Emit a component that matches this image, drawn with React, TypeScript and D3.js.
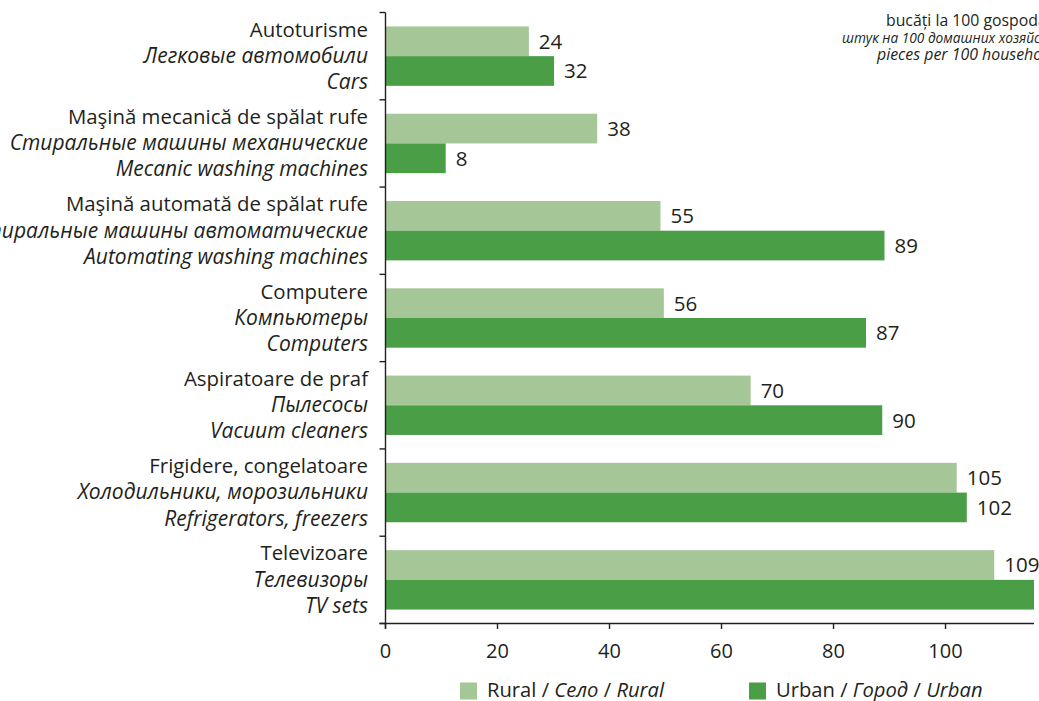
import React from 'react';
import * as d3 from 'd3';

const categoriesRo = [
  'Autoturisme',
  'Maşină mecanică de spălat rufe',
  'Maşină automată de spălat rufe',
  'Computere',
  'Aspiratoare de praf',
  'Frigidere, congelatoare',
  'Televizoare',
];
const categoriesRu = [
  'Легковые автомобили',
  'Стиральные машины механические',
  'Стиральные машины автоматические',
  'Компьютеры',
  'Пылесосы',
  'Холодильники, морозильники',
  'Телевизоры',
];
const categoriesEn = [
  'Cars',
  'Mecanic washing machines',
  'Automating washing machines',
  'Computers',
  'Vacuum cleaners',
  'Refrigerators, freezers',
  'TV sets',
];
// bar lengths as drawn in the reference
const ruralValues = [25.6, 37.8, 49.1, 49.7, 65.2, 102.0, 108.7];
const urbanValues = [30.1, 10.75, 89.1, 85.8, 88.7, 103.8, 118];
// value labels as printed in the reference
const ruralLabels = ['24', '38', '55', '56', '70', '105', '109'];
const urbanLabels = ['32', '8', '89', '87', '90', '102', '118'];
const xTicks = [0, 20, 40, 60, 80, 100];
const unitNote = ['bucăți la 100 gospodării', 'штук на 100 домашних хозяйств', 'pieces per 100 households'];
const seriesKeys = ['rural', 'urban'];

const W = 1039;
const H = 701;
const FONT = '"Open Sans", "Noto Sans", sans-serif';
const TXT = '#231f20';
const RURAL = '#a5c696';
const URBAN = '#4a9e46';
const noteX = [886, 842, 877];
const noteSize = [15.8, 13.7, 15.9];

export default function App() {
  const x = d3.scaleLinear().domain([0, 115.8]).range([385.5, 1034]);
  const y = d3
    .scaleBand<number>()
    .domain(d3.range(categoriesRo.length))
    .range([12.5, 623.5]);
  const ys = d3
    .scaleBand<string>()
    .domain(seriesKeys)
    .range([0, y.bandwidth()])
    .paddingInner(0)
    .paddingOuter(0.47);
  const x0 = x(0);
  const axisY = y.range()[1];
  const boundaries = d3.range(categoriesRo.length + 1).map((i) => y.range()[0] + i * y.step());

  return (
    <svg
      width={W}
      height={H}
      style={{ position: 'absolute', left: 0, top: 0, background: '#fff' }}
      fontFamily={FONT}
    >
      <defs>
        <clipPath id="plotClip">
          <rect x={x0} y={0} width={x.range()[1] - x0} height={H} />
        </clipPath>
      </defs>
      <rect x={0} y={0} width={W} height={H} fill="#fff" />

      {/* unit note */}
      {unitNote.map((t, i) => (
        <text
          key={t}
          x={noteX[i]}
          y={25.5 + i * 17}
          fontSize={noteSize[i]}
          fill={TXT}
          fontStyle={i === 0 ? 'normal' : 'italic'}
        >
          {t}
        </text>
      ))}

      {/* bars */}
      <g clipPath="url(#plotClip)">
        {categoriesRo.map((_, i) => (
          <g key={i}>
            <rect
              x={x0}
              y={(y(i) as number) + (ys('rural') as number)}
              width={x(ruralValues[i]) - x0}
              height={ys.bandwidth()}
              fill={RURAL}
            />
            <rect
              x={x0}
              y={(y(i) as number) + (ys('urban') as number)}
              width={x(urbanValues[i]) - x0}
              height={ys.bandwidth()}
              fill={URBAN}
            />
          </g>
        ))}
      </g>

      {/* value labels */}
      {categoriesRo.map((_, i) => (
        <g key={'l' + i} fontSize={20.5} fill={TXT}>
          <text
            x={x(ruralValues[i]) + 10}
            y={(y(i) as number) + (ys('rural') as number) + ys.bandwidth() / 2}
            dy="0.36em"
          >
            {ruralLabels[i]}
          </text>
          <text
            x={x(urbanValues[i]) + 10}
            y={(y(i) as number) + (ys('urban') as number) + ys.bandwidth() / 2}
            dy="0.36em"
          >
            {urbanLabels[i]}
          </text>
        </g>
      ))}

      {/* category labels */}
      {categoriesRo.map((c, i) => {
        const cy = (y(i) as number) + y.bandwidth() / 2;
        return (
          <g key={'c' + i} fill={TXT} textAnchor="end">
            <text x={368} y={cy - 19.5} fontSize={20.4}>{c}</text>
            <text x={368} y={cy + 6.8} fontSize={21} fontStyle="italic">{categoriesRu[i]}</text>
            <text x={368} y={cy + 33} fontSize={21} fontStyle="italic">{categoriesEn[i]}</text>
          </g>
        );
      })}

      {/* y axis */}
      <line x1={x0} x2={x0} y1={boundaries[0]} y2={axisY + 5} stroke={TXT} strokeWidth={1.4} />
      {boundaries.map((b, i) => (
        <line key={'yt' + i} x1={x0 - 6} x2={x0} y1={b} y2={b} stroke={TXT} strokeWidth={1.4} />
      ))}

      {/* x axis */}
      <line x1={x0 - 6} x2={x.range()[1]} y1={axisY} y2={axisY} stroke={TXT} strokeWidth={1.4} />
      {xTicks.map((t) => (
        <g key={'xt' + t}>
          <line x1={x(t)} x2={x(t)} y1={axisY} y2={axisY + 5.5} stroke={TXT} strokeWidth={1.4} />
          <text x={x(t)} y={658} textAnchor="middle" fontSize={20} fill={TXT}>
            {t}
          </text>
        </g>
      ))}

      {/* legend */}
      <rect x={460} y={682.5} width={17} height={17} fill={RURAL} />
      <text x={487} y={697} fontSize={20.2} fill={TXT}>
        Rural / <tspan fontStyle="italic">Село</tspan> / <tspan fontStyle="italic">Rural</tspan>
      </text>
      <rect x={749} y={682.5} width={17} height={17} fill={URBAN} />
      <text x={776} y={697} fontSize={20.2} fill={TXT}>
        Urban / <tspan fontStyle="italic">Город</tspan> / <tspan fontStyle="italic">Urban</tspan>
      </text>
    </svg>
  );
}
